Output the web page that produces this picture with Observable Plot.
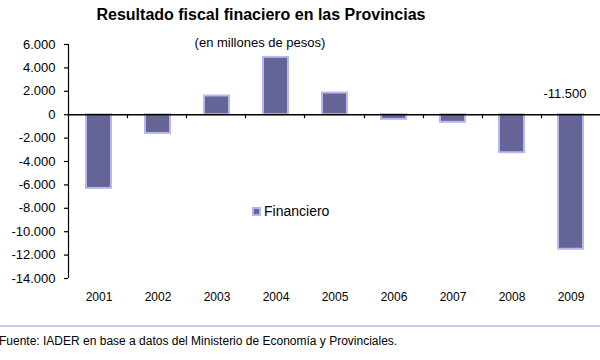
<!DOCTYPE html>
<html>
<head>
<meta charset="utf-8">
<script src="https://cdn.jsdelivr.net/npm/d3@7"></script>
<script src="https://cdn.jsdelivr.net/npm/@observablehq/plot@0.6"></script>
<style>
  html, body { margin: 0; padding: 0; background: #fff; }
  #wrap { position: relative; width: 600px; height: 360px; overflow: hidden; font-family: "Liberation Sans", Arial, sans-serif; }
  #title { position: absolute; left: 0; width: 522px; top: 6px; text-align: center; font-weight: bold; font-size: 16px; letter-spacing: 0px; color: #000; }
  #subtitle { position: absolute; left: 0; width: 520px; top: 35px; text-align: center; font-size: 13px; color: #000; }
  #legend { position: absolute; left: 252px; top: 203px; font-size: 14px; display: flex; align-items: center; color: #000; }
  #legend .sw { width: 5px; height: 5px; background: #646496; border: 2px solid #b4b4f0; margin-right: 3px; }
  #sep { position: absolute; left: 0; top: 325px; width: 600px; height: 2px; background: #c8c8f8; }
  #caption { position: absolute; left: -1px; top: 334px; font-size: 12px; color: #000; white-space: nowrap; }
  #chart { position: absolute; left: 0; top: 0; }
</style>
</head>
<body>
<div id="wrap">
  <div id="chart"></div>
  <div id="title">Resultado fiscal finaciero en las Provincias</div>
  <div id="subtitle">(en millones de pesos)</div>
  <div id="legend"><span class="sw"></span><span>Financiero</span></div>
  <div id="sep"></div>
  <div id="caption">Fuente: IADER en base a datos del Ministerio de Economía y Provinciales.</div>
</div>
<script>
const years = ["2001","2002","2003","2004","2005","2006","2007","2008","2009"];
const financiero = [-6300, -1600, 1600, 4900, 1850, -400, -650, -3250, -11500];
const yTicks = [6000, 4000, 2000, 0, -2000, -4000, -6000, -8000, -10000, -12000, -14000];
const labelYear = "2009";

const data = years.map((year, i) => ({year, value: financiero[i]}));
const loc = d3.formatLocale({decimal: ",", thousands: ".", grouping: [3], currency: ["$", ""], minus: "-"});
const fmt = loc.format(",");

const W = 600, H = 310, mL = 68, mR = 0, mT = 44, mB = 32;

const axisLines = (index, scales, values, dimensions) => {
  const g = d3.create("svg:g").attr("stroke", "#000").attr("stroke-width", 1.2);
  const step = (dimensions.width - dimensions.marginLeft - dimensions.marginRight) / years.length;
  const y0 = scales.y(0);
  for (let i = 1; i < years.length; i++) {
    const x = Math.round(dimensions.marginLeft + i * step) + 0.5;
    g.append("line").attr("x1", x).attr("x2", x).attr("y1", y0).attr("y2", y0 + 4);
  }
  g.append("line")
    .attr("x1", dimensions.marginLeft + 0.5).attr("x2", dimensions.marginLeft + 0.5)
    .attr("y1", scales.y(d3.max(yTicks))).attr("y2", scales.y(d3.min(yTicks)));
  return g.node();
};

const chart = Plot.plot({
  width: W, height: H,
  marginLeft: mL, marginRight: mR, marginTop: mT, marginBottom: mB,
  style: {fontFamily: "Liberation Sans, Arial, sans-serif", fontSize: "12px", color: "#000", background: "transparent"},
  x: {domain: years, paddingInner: 0.58, paddingOuter: 0.29, label: null},
  y: {domain: [-14000, 6000], label: null},
  marks: [
    Plot.barY(data, {x: "year", y: "value", fill: "#646496", stroke: "#b8b8f0", strokeWidth: 2}),
    Plot.ruleY([0], {stroke: "#000", strokeWidth: 1.5}),
    axisLines,
    Plot.axisY({ticks: yTicks, tickFormat: fmt, tickSize: 4, tickPadding: 9, stroke: "#000", strokeWidth: 1.2, fontSize: 13}),
    Plot.axisX({tickSize: 0, tickPadding: 14, fontSize: 12, anchor: "bottom"}),
    Plot.text(data.filter(d => d.year === labelYear), {x: "year", text: d => fmt(d.value), frameAnchor: "top", dy: 44, dx: -6, fontSize: 13})
  ]
});
document.getElementById("chart").appendChild(chart);
</script>
</body>
</html>
